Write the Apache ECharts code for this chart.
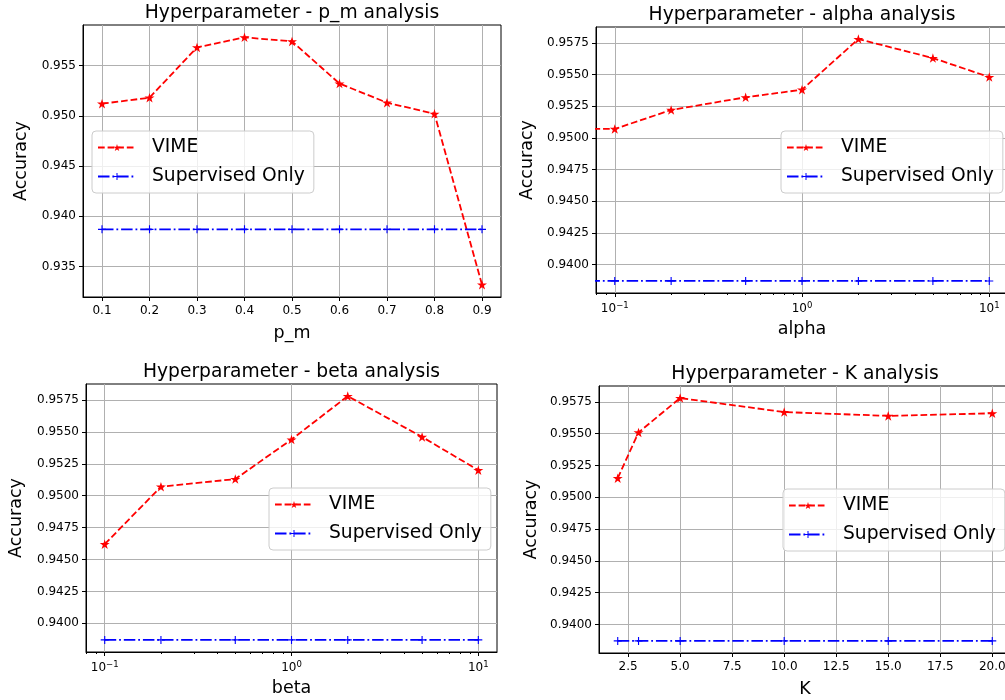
<!DOCTYPE html>
<html>
<head>
<meta charset="utf-8">
<script src="https://cdn.jsdelivr.net/npm/echarts@6/dist/echarts.min.js"></script>
<style>
  html, body { margin: 0; padding: 0; background: #ffffff; }
  #chart { width: 1005px; height: 700px; }
</style>
</head>
<body>
<div id="chart"></div>
<script>
// ---- data -------------------------------------------------------------
const seriesNames = ['VIME', 'Supervised Only'];

const pmValues = [0.1, 0.2, 0.3, 0.4, 0.5, 0.6, 0.7, 0.8, 0.9];
const pmVime = [0.9512, 0.9518, 0.9568, 0.9578, 0.9574, 0.9532, 0.9513, 0.9502, 0.9332];
const pmSupervised = [0.9387, 0.9387, 0.9387, 0.9387, 0.9387, 0.9387, 0.9387, 0.9387, 0.9387];

const alphaValues = [0, 0.1, 0.2, 0.5, 1, 2, 5, 10];
const alphaVime = [0.9507, 0.9507, 0.9522, 0.9532, 0.9538, 0.9578, 0.9563, 0.9548];
const alphaSupervised = [0.9387, 0.9387, 0.9387, 0.9387, 0.9387, 0.9387, 0.9387, 0.9387];

const betaValues = [0.1, 0.2, 0.5, 1, 2, 5, 10];
const betaVime = [0.9462, 0.9507, 0.9513, 0.9544, 0.9578, 0.9546, 0.9520];
const betaSupervised = [0.9387, 0.9387, 0.9387, 0.9387, 0.9387, 0.9387, 0.9387];

const kValues = [2, 3, 5, 10, 15, 20];
const kVime = [0.9515, 0.9551, 0.9578, 0.9567, 0.9564, 0.9566];
const kSupervised = [0.9387, 0.9387, 0.9387, 0.9387, 0.9387, 0.9387];

// ---- tick values ------------------------------------------------------
const pmTicks = [0.1, 0.2, 0.3, 0.4, 0.5, 0.6, 0.7, 0.8, 0.9];
const logMajorTicks = [0.1, 1, 10];
const logMinorTicks = [0.08, 0.09, 0.2, 0.3, 0.4, 0.5, 0.6, 0.7, 0.8, 0.9, 2, 3, 4, 5, 6, 7, 8, 9];
const kTicks = [2.5, 5, 7.5, 10, 12.5, 15, 17.5, 20];
const accTicksCoarse = [0.935, 0.940, 0.945, 0.950, 0.955];
const accTicksFine = [0.9400, 0.9425, 0.9450, 0.9475, 0.9500, 0.9525, 0.9550, 0.9575];

// ---- styling ----------------------------------------------------------
const FONT = 'DejaVu Sans';
const INK = '#000000';
const GRID_LINE = '#b0b0b0';
const RED = '#ff0000';
const BLUE = '#0000ff';
const STAR = 'path://M0,-1 L0.2245,-0.309 L0.951,-0.309 L0.363,0.118 L0.588,0.809 L0,0.382 L-0.588,0.809 L-0.363,0.118 L-0.951,-0.309 L-0.2245,-0.309 Z';
const PLUS = 'path://M-1,-0.14 L-0.14,-0.14 L-0.14,-1 L0.14,-1 L0.14,-0.14 L1,-0.14 L1,0.14 L0.14,0.14 L0.14,1 L-0.14,1 L-0.14,0.14 L-1,0.14 Z';

// a log axis cannot place 0, so it is pushed far off to the left (clipped away)
const logSafe = v => (v > 0 ? v : 1e-300);

const logLabel = v => {
  const e = Math.round(Math.log10(v));
  return '{b|10}{s|' + (e < 0 ? '\u2212' : '') + Math.abs(e) + '}';
};

const panels = [
  {
    title: 'Hyperparameter - p_m analysis', xName: 'p_m',
    grid: { left: 83, top: 25, width: 418, height: 272 },
    xType: 'value', xMin: 0.06, xMax: 0.94, xTicks: pmTicks, xFmt: v => v.toFixed(1),
    yMin: 0.93197, yMax: 0.95903, yTicks: accTicksCoarse, yDigits: 3, yNameGap: 53,
    legend: { left: 92, top: 131 },
    xs: pmValues, vime: pmVime, sup: pmSupervised
  },
  {
    title: 'Hyperparameter - alpha analysis', xName: 'alpha',
    grid: { left: 596, top: 27, width: 412, height: 266 },
    xType: 'log', xMin: 0.0794, xMax: 12.59, xTicks: logMajorTicks, xFmt: logLabel,
    yMin: 0.93775, yMax: 0.95875, yTicks: accTicksFine, yDigits: 4, yNameGap: 60,
    legend: { left: 781, top: 131 },
    xs: alphaValues, vime: alphaVime, sup: alphaSupervised
  },
  {
    title: 'Hyperparameter - beta analysis', xName: 'beta',
    grid: { left: 86, top: 384, width: 411, height: 268 },
    xType: 'log', xMin: 0.0794, xMax: 12.59, xTicks: logMajorTicks, xFmt: logLabel,
    yMin: 0.93775, yMax: 0.95875, yTicks: accTicksFine, yDigits: 4, yNameGap: 61,
    legend: { left: 269, top: 488 },
    xs: betaValues, vime: betaVime, sup: betaSupervised
  },
  {
    title: 'Hyperparameter - K analysis', xName: 'K',
    grid: { left: 599, top: 386, width: 412, height: 267 },
    xType: 'value', xMin: 1.1, xMax: 20.9, xTicks: kTicks, xFmt: v => v.toFixed(1),
    yMin: 0.93775, yMax: 0.95875, yTicks: accTicksFine, yDigits: 4, yNameGap: 59,
    legend: { left: 783, top: 489 },
    xs: kValues, vime: kVime, sup: kSupervised
  }
];

const tickLabelStyle = { fontFamily: FONT, fontSize: 12, color: INK };

const option = {
  animation: false,
  backgroundColor: '#ffffff',
  title: [], grid: [], xAxis: [], yAxis: [], legend: [], series: []
};

panels.forEach((p, i) => {
  const g = p.grid;
  option.grid.push({
    left: g.left, top: g.top, width: g.width, height: g.height,
    show: true, borderColor: INK, borderWidth: 1, backgroundColor: 'transparent',
    containLabel: false, outerBoundsMode: 'none'
  });

  option.title.push({
    text: p.title,
    left: g.left + g.width / 2,
    top: g.top - 21,
    textAlign: 'center',
    padding: 0,
    textStyle: { fontFamily: FONT, fontSize: 18.7, fontWeight: 'normal', color: INK }
  });

  option.xAxis.push({
    type: p.xType, gridIndex: i, position: 'bottom',
    min: p.xMin, max: p.xMax,
    name: p.xName, nameLocation: 'middle', nameGap: 27,
    nameTextStyle: { fontFamily: FONT, fontSize: 17.5, color: INK },
    axisLine: { show: true, onZero: false, lineStyle: { color: INK, width: 1 } },
    axisTick: { show: true, inside: false, length: 4, customValues: p.xTicks, lineStyle: { color: INK, width: 1 } },
    axisLabel: {
      show: true, margin: 8, customValues: p.xTicks, formatter: p.xFmt,
      ...tickLabelStyle,
      rich: {
        b: { fontFamily: FONT, fontSize: 12, color: INK, lineHeight: 14, verticalAlign: 'bottom' },
        s: { fontFamily: FONT, fontSize: 8.5, color: INK, lineHeight: 9, verticalAlign: 'top' }
      }
    },
    splitLine: { show: true, lineStyle: { color: GRID_LINE, width: 1 } }
  });

  option.yAxis.push({
    type: 'value', gridIndex: i,
    min: p.yMin, max: p.yMax,
    name: 'Accuracy', nameLocation: 'middle', nameGap: p.yNameGap, nameRotate: 90,
    nameTextStyle: { fontFamily: FONT, fontSize: 17.5, color: INK },
    axisLine: { show: true, onZero: false, lineStyle: { color: INK, width: 1 } },
    axisTick: { show: true, inside: false, length: 4, customValues: p.yTicks, lineStyle: { color: INK, width: 1 } },
    axisLabel: { show: true, margin: 7, customValues: p.yTicks, formatter: v => v.toFixed(p.yDigits), ...tickLabelStyle },
    splitLine: { show: true, lineStyle: { color: GRID_LINE, width: 1 } }
  });

  option.legend.push({
    data: seriesNames,
    orient: 'vertical',
    left: p.legend.left, top: p.legend.top,
    padding: [7, 9, 7, 5],
    itemWidth: 38, itemHeight: 9, itemGap: 10,
    backgroundColor: 'rgba(255,255,255,0.8)',
    borderColor: '#cccccc', borderWidth: 1, borderRadius: 4,
    textStyle: { fontFamily: FONT, fontSize: 18.7, color: INK, lineHeight: 19, padding: [0, 0, 0, 11] },
    selectedMode: false
  });

  const pts = ys => p.xs.map((x, j) => [p.xType === 'log' ? logSafe(x) : x, ys[j]]);

  option.series.push({
    name: seriesNames[0], type: 'line', xAxisIndex: i, yAxisIndex: i,
    data: pts(p.vime), clip: true,
    symbol: STAR, symbolSize: 10, symbolKeepAspect: true, showSymbol: true,
    lineStyle: { color: RED, width: 1.8, type: [6.7, 2.9] },
    itemStyle: { color: RED },
    emphasis: { disabled: true }, z: 3
  });
  option.series.push({
    name: seriesNames[1], type: 'line', xAxisIndex: i, yAxisIndex: i,
    data: pts(p.sup), clip: true,
    symbol: PLUS, symbolSize: 8, symbolKeepAspect: true, showSymbol: true,
    lineStyle: { color: BLUE, width: 1.8, type: [11.5, 2.9, 1.8, 2.9] },
    itemStyle: { color: BLUE },
    emphasis: { disabled: true }, z: 3
  });
});

// minor ticks for the two logarithmic axes
panels.forEach((p, i) => {
  if (p.xType !== 'log') return;
  option.xAxis.push({
    type: 'log', gridIndex: i, position: 'bottom', offset: 0,
    min: p.xMin, max: p.xMax,
    axisLine: { show: false },
    axisTick: { show: true, inside: false, length: 2, customValues: logMinorTicks, lineStyle: { color: INK, width: 1 } },
    axisLabel: { show: false },
    splitLine: { show: false }
  });
});

const chart = echarts.init(document.getElementById('chart'), null, { renderer: 'canvas' });
chart.setOption(option);
</script>
</body>
</html>
